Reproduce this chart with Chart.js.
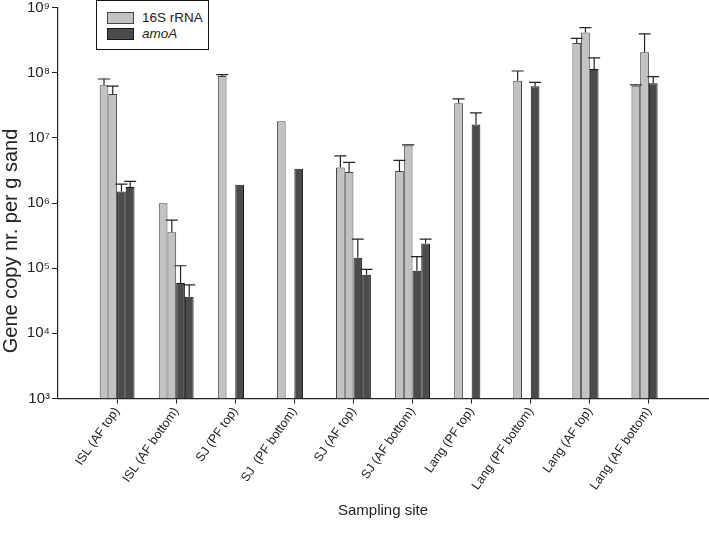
<!DOCTYPE html>
<html>
<head>
<meta charset="utf-8">
<script src="https://cdn.jsdelivr.net/npm/chart.js@4/dist/chart.umd.min.js"></script>
<style>
  body { margin: 0; background: #fff; }
  #wrap { position: relative; width: 709px; height: 534px; }
  #legend {
    position: absolute; left: 96px; top: 0px; width: 111px; height: 48px;
    border: 1px solid #111; background: #fff;
    font-family: 'Liberation Sans', Arial, sans-serif; font-size: 13.5px; color: #222;
  }
  .item { position: absolute; left: 10px; height: 12px; line-height: 12px; white-space: nowrap; }
  .sw { display: inline-block; width: 25px; height: 10px; vertical-align: top; margin-right: 8px; }
</style>
</head>
<body>
<div id="wrap">
  <canvas id="chart"></canvas>
  <div id="legend"></div>
</div>
<script>
// sampling sites (empty ends pad the axis like the original)
const sites = ['', 'ISL (AF top)', 'ISL (AF bottom)', 'SJ (PF top)', 'SJ  (PF bottom)', 'SJ (AF top)',
    'SJ (AF bottom)', 'Lang (PF top)', 'Lang (PF bottom)', 'Lang (AF top)', 'Lang (AF bottom)', '']

// 16S rRNA, two replicates
const rrna1 = [null, 6.4e7, 9.9e5, 8.9e7, 1.8e7, 3.5e6, 3.1e6, 3.4e7, 7.5e7, 2.85e8, 6.3e7, null]
const rrna1Err = [null, 1.6e7, 0, 4e6, 0, 1.8e6, 1.4e6, 5.5e6, 3.1e7, 5.2e7, 2e6, null]
const rrna2 = [null, 4.7e7, 3.55e5, null, null, 3.0e6, 7.6e6, null, null, 4.15e8, 2.05e8, null]
const rrna2Err = [null, 1.5e7, 1.9e5, null, null, 1.2e6, 2e5, null, null, 7.5e7, 1.9e8, null]

// amoA, two replicates
const amoa1 = [null, 1.5e6, 5.9e4, 1.9e6, 3.35e6, 1.45e5, 9.1e4, 1.6e7, 6.2e7, 1.14e8, 6.9e7, null]
const amoa1Err = [null, 4.5e5, 5.0e4, 0, 0, 1.35e5, 5.9e4, 8.2e6, 9e6, 5.5e7, 1.8e7, null]
const amoa2 = [null, 1.76e6, 3.65e4, null, null, 7.9e4, 2.4e5, null, null, null, null, null]
const amoa2Err = [null, 3.9e5, 1.9e4, null, null, 1.7e4, 3.9e4, null, null, null, null, null]

const decades = [1e3, 1e4, 1e5, 1e6, 1e7, 1e8, 1e9]
const legendLabels = ['16S rRNA', 'amoA']
const yTitle = 'Gene copy nr. per g sand'

const LIGHT = '#c2c2c2'
const DARK = '#4b4b4b'
const sup = {'3': '³', '4': '⁴', '5': '⁵', '6': '⁶', '7': '⁷', '8': '⁸', '9': '⁹'}

Chart.defaults.font.family = "'Liberation Sans', Arial, sans-serif"
Chart.defaults.color = '#222'

// upper error bars drawn from the y scale
const errorBars = {
    id: 'errorBars',
    afterDatasetsDraw(chart) {
        const ctx = chart.ctx
        const y = chart.scales.y
        chart.data.datasets.forEach(function (ds, i) {
            const meta = chart.getDatasetMeta(i)
            meta.data.forEach(function (bar, j) {
                const v = ds.data[j]
                const e = ds.err[j]
                if (v == null || !e) return
                const top = y.getPixelForValue(v + e)
                ctx.save()
                ctx.strokeStyle = '#222'
                ctx.lineWidth = 1.2
                ctx.beginPath()
                ctx.moveTo(bar.x, bar.y)
                ctx.lineTo(bar.x, top)
                ctx.moveTo(bar.x - 6, top)
                ctx.lineTo(bar.x + 6, top)
                ctx.stroke()
                ctx.restore()
            })
        })
    }
}

// y title sits a bit below the middle in the original
const yTitlePlugin = {
    id: 'yTitlePlugin',
    afterDraw(chart) {
        const ctx = chart.ctx
        const a = chart.chartArea
        ctx.save()
        ctx.translate(11, (a.top + a.bottom) / 2 + 38)
        ctx.rotate(-Math.PI / 2)
        ctx.font = "20px 'Liberation Sans', Arial, sans-serif"
        ctx.fillStyle = '#222'
        ctx.textAlign = 'center'
        ctx.textBaseline = 'middle'
        ctx.fillText(yTitle, 0, 0)
        ctx.restore()
    }
}

function makeSet(label, data, err, color, border) {
    return {
        label: label,
        data: data,
        err: err,
        backgroundColor: color,
        borderColor: border,
        borderWidth: 1,
        categoryPercentage: 0.59,
        barPercentage: 1.0
    }
}

new Chart(document.getElementById('chart'), {
    type: 'bar',
    data: {
        labels: sites,
        datasets: [
            makeSet('16S rRNA', rrna1, rrna1Err, LIGHT, '#444'),
            makeSet('16S rRNA', rrna2, rrna2Err, LIGHT, '#444'),
            makeSet('amoA', amoa1, amoa1Err, DARK, '#151515'),
            makeSet('amoA', amoa2, amoa2Err, DARK, '#151515')
        ]
    },
    options: {
        responsive: true,
        maintainAspectRatio: false,
        animation: false,
        layout: { padding: { top: 7.5, right: 1, bottom: 0, left: 0 } },
        plugins: { legend: { display: false }, tooltip: { enabled: false } },
        scales: {
            x: {
                offset: false,
                afterFit: function (s) { s.height = 135.5; s.paddingLeft = 0; s.paddingRight = 0 },
                grid: {
                    offset: false,
                    drawOnChartArea: false,
                    tickLength: 5,
                    color: function (c) { return sites[c.index] === '' ? 'rgba(0,0,0,0)' : '#222' }
                },
                border: { color: '#222', width: 1.2 },
                ticks: { autoSkip: false, maxRotation: 55, minRotation: 55, padding: 1, font: { size: 12.5 } },
                title: { display: true, text: 'Sampling site', font: { size: 15 }, padding: { top: 4, bottom: 14 } }
            },
            y: {
                type: 'logarithmic',
                min: 1e3,
                max: 1e9,
                afterFit: function (s) { s.width = 58; s.paddingTop = 0; s.paddingBottom = 0 },
                afterBuildTicks: function (s) { s.ticks = decades.map(v => ({ value: v, major: true })) },
                grid: { drawOnChartArea: false, tickLength: 6, color: '#222' },
                border: { color: '#222', width: 1.2 },
                ticks: {
                    padding: 2,
                    font: { size: 15 },
                    callback: function (v) { return '10' + sup[String(Math.round(Math.log10(v)))] }
                },
                title: { display: false }
            }
        }
    },
    plugins: [errorBars, yTitlePlugin]
})

// legend box inside the plot
const legend = document.getElementById('legend')
const swatches = [[LIGHT, '#444'], [DARK, '#151515']]
legendLabels.forEach(function (name, i) {
    const d = document.createElement('div')
    d.className = 'item'
    d.style.top = (11 + i * 16) + 'px'
    const sw = document.createElement('span')
    sw.className = 'sw'
    sw.style.background = swatches[i][0]
    sw.style.border = '1px solid ' + swatches[i][1]
    d.appendChild(sw)
    const t = document.createElement('span')
    t.textContent = name
    if (i === 1) t.style.fontStyle = 'italic'
    d.appendChild(t)
    legend.appendChild(d)
})
</script>
</body>
</html>
